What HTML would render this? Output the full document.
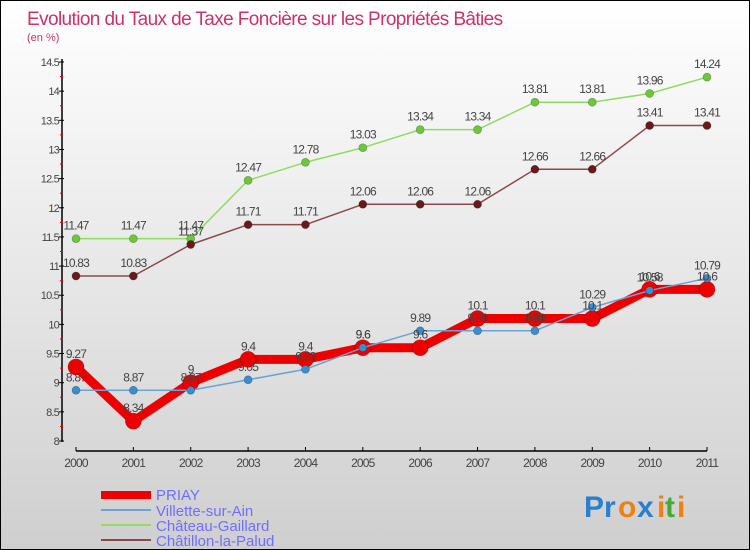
<!DOCTYPE html>
<html><head><meta charset="utf-8"><style>
body{margin:0;}
#wrap{position:relative;width:750px;height:550px;box-sizing:border-box;border:1px solid #000;background:linear-gradient(#ffffff,#cfcfcf);font-family:"Liberation Sans",sans-serif;overflow:hidden}
svg text{font-family:"Liberation Sans",sans-serif}
</style></head><body>
<div id="wrap">
<svg id="chart" width="750" height="550">
<text x="26" y="24" font-size="19" fill="#c8336f" letter-spacing="-0.6">Evolution du Taux de Taxe Foncière sur les Propriétés Bâties</text>
<text x="26" y="40" font-size="11" fill="#c8336f">(en %)</text>
<g id="axes"></g><g id="series"></g><g id="labels"></g>
<g>
<line x1="100" y1="494" x2="150" y2="494" stroke="#ee0000" stroke-width="8"/>
<text x="155" y="499" font-size="15" fill="#6f6fff">PRIAY</text>
<line x1="100" y1="509" x2="150" y2="509" stroke="#6aa3d6" stroke-width="2"/>
<text x="155" y="515" font-size="15" fill="#6f6fff">Villette-sur-Ain</text>
<line x1="100" y1="524" x2="150" y2="524" stroke="#8fdc60" stroke-width="2"/>
<text x="155" y="530" font-size="15" fill="#6f6fff">Château-Gaillard</text>
<line x1="100" y1="539" x2="150" y2="539" stroke="#8b4a4a" stroke-width="2"/>
<text x="155" y="545" font-size="15" fill="#6f6fff">Châtillon-la-Palud</text>
</g>
<g font-size="30" font-weight="bold">
<text x="583" y="516" fill="#2a7fd0">P</text><text x="603" y="516" fill="#2a7fd0">r</text><text x="617" y="516" fill="#f08010">o</text><text x="636" y="516" fill="#2a7fd0">x</text><text x="656" y="516" fill="#f08010">i</text><text x="664" y="516" fill="#44aa33">t</text><text x="676" y="516" fill="#f08010">i</text>
</g>
</svg>
</div>
<script>
const years=["2000","2001","2002","2003","2004","2005","2006","2007","2008","2009","2010","2011"];
const priay=[9.27,8.34,9,9.4,9.4,9.6,9.6,10.1,10.1,10.1,10.6,10.6];
const villette=[8.87,8.87,8.87,9.05,9.23,9.6,9.89,9.89,9.89,10.29,10.58,10.79];
const chateau=[11.47,11.47,11.47,12.47,12.78,13.03,13.34,13.34,13.81,13.81,13.96,14.24];
const chatillon=[10.83,10.83,11.37,11.71,11.71,12.06,12.06,12.06,12.66,12.66,13.41,13.41];
const yTicks=[8,8.5,9,9.5,10,10.5,11,11.5,12,12.5,13,13.5,14,14.5];
const NS="http://www.w3.org/2000/svg";
const x=i=>75+i*(706-75)/11;
const y=v=>440-(v-8)*(440-61)/6.5;
function mk(p,t,a){const e=document.createElementNS(NS,t);for(const k in a)e.setAttribute(k,a[k]);p.appendChild(e);return e;}
const ax=document.getElementById('axes'),se=document.getElementById('series'),lb=document.getElementById('labels');
const ya=mk(ax,'line',{x1:61,y1:58,x2:61,y2:441,stroke:'#000','stroke-width':1.5});


const xa=mk(ax,'line',{x1:75,y1:450,x2:706,y2:450,stroke:'#000','stroke-width':1.5});


yTicks.forEach((v,i)=>{
 mk(ax,'line',{x1:58,y1:y(v),x2:63,y2:y(v),stroke:'#000'});
 if(i<yTicks.length-1) mk(ax,'line',{x1:59,y1:y(v+0.25),x2:62,y2:y(v+0.25),stroke:'#e00'});
 const t=mk(ax,'text',{x:58,y:y(v)+4,'font-size':11,fill:'#444','text-anchor':'end','letter-spacing':'-0.8'});
 t.textContent=String(v);
 
 
});
years.forEach((yr,i)=>{
 mk(ax,'line',{x1:x(i),y1:446,x2:x(i),y2:450,stroke:'#000'});
 const t=mk(ax,'text',{x:x(i),y:466,'font-size':12,fill:'#444','text-anchor':'middle','letter-spacing':'-0.8'});
 t.textContent=yr;
 
 
});
function series(vals,name,color,width,r,dot){
 const g=mk(se,'g',{});
 
 
 mk(g,'polyline',{points:vals.map((v,i)=>x(i)+','+y(v)).join(' '),fill:'none',stroke:color,'stroke-width':width,'stroke-linejoin':'round'});
 vals.forEach((v,i)=>{
  const c=mk(g,'circle',{cx:x(i),cy:y(v),r:r,fill:dot,stroke:'rgba(0,0,0,0.3)','stroke-width':0.7});
  
  
  const t=mk(lb,'text',{x:x(i),y:y(v)-9,'font-size':12,fill:'#444','text-anchor':'middle','letter-spacing':'-0.8'});
  t.textContent=String(v);
  
  
 });
}
series(chateau,'chateau-gaillard','#8fdc60',1.5,4,'#6cc83a');
series(chatillon,'chatillon-la-palud','#8b4a4a',1.5,4,'#6a1a1a');
series(priay,'priay','#ee0000',9,8,'#ee0000');
series(villette,'villette-sur-ain','#6aa3d6',1.5,4,'#3a8ed0');
</script>
</body></html>
